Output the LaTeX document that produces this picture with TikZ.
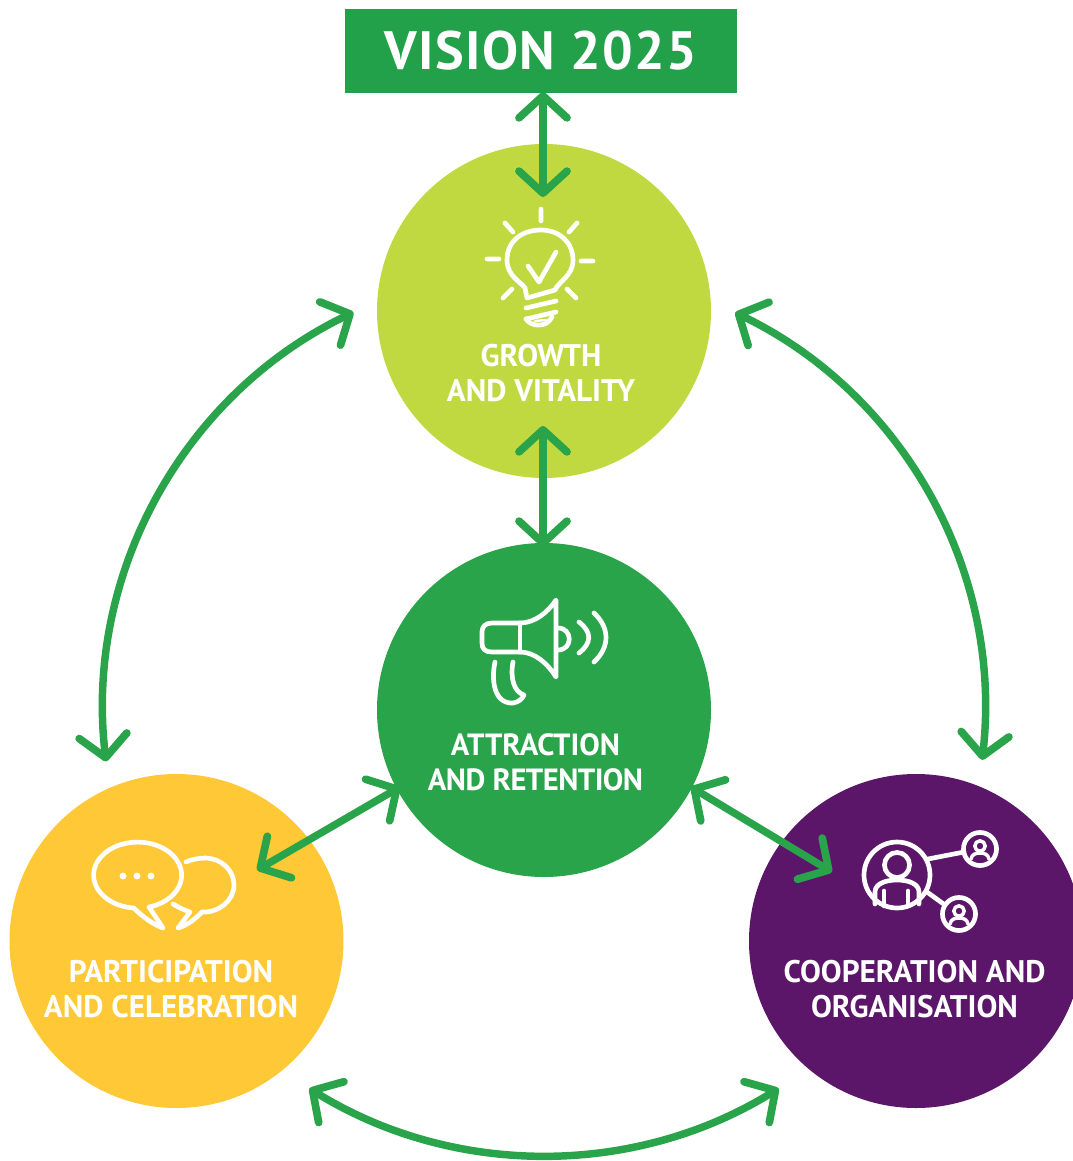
\documentclass[tikz,border=0pt]{standalone}
\usepackage{fontspec}
\setmainfont{PT Sans}
\usetikzlibrary{arrows.meta,calc}
\definecolor{arrowgreen}{HTML}{2AA44A}
\definecolor{boxgreen}{HTML}{22A04A}
\definecolor{lime}{HTML}{C1D940}
\definecolor{sun}{HTML}{FFC836}
\definecolor{plum}{HTML}{5B1669}
\tikzset{
  x=0.75pt,y=-0.75pt,
  disc/.style={circle,minimum size=250.5pt,inner sep=0pt,outer sep=0pt,fill=#1},
  caption/.style={text=white,font=\bfseries\fontsize{23.4}{26.25}\selectfont,align=center,inner sep=0pt},
  dbl/.style={draw=arrowgreen,line width=5.6pt,line cap=round,
    {Straight Barb[round,length=16.5pt,width=36pt,line width=5.8pt]}-{Straight Barb[round,length=16.5pt,width=36pt,line width=5.8pt]}},
  icon/.style={draw=white,line width=3.5pt,line cap=round,line join=round},
  dotw/.style={fill=white},
}
\begin{document}
\begin{tikzpicture}
\useasboundingbox (0,0) rectangle (1073,1161);
\clip (0,0) rectangle (1073,1161);
% boxes and discs
\node[fill=boxgreen,minimum width=294pt,minimum height=63pt,inner sep=0pt,outer sep=0pt] (vision) at (541,51) {};
\node[disc=lime] (growth) at (544,311) {};
\node[disc=arrowgreen] (attract) at (544,710) {};
\node[disc=sun] (part) at (176.5,941) {};
\node[disc=plum] (coop) at (916,941) {};
% labels
\node[text=white,font=\bfseries\fontsize{40.5}{48}\selectfont,inner sep=0pt,anchor=base] (visiontext) at (541,69) {\addfontfeature{LetterSpace=2.6}VISION 2025};
\node[caption] (growthtext) at (541,373.5) {GROWTH\\AND VITALITY};
\node[caption] (attracttext) at (535.5,762.5) {{\fontsize{23}{26.25}\selectfont ATTRACTION}\\{\fontsize{23}{26.25}\selectfont\addfontfeature{LetterSpace=-1.8}AND RETENTION}};
\node[caption] (parttext) at (171,989.5) {PARTICIPATION\\AND CELEBRATION};
\node[caption] (cooptext) at (914.5,989.5) {COOPERATION AND\\ORGANISATION};
% connectors
\coordinate (va) at ($(vision.south)+(2,-1)$);
\coordinate (vb) at ($(growth.north)+(-1,53)$);
\draw[dbl] (va) -- (vb);
\coordinate (ga) at ($(growth.south)+(-1,-52)$);
\coordinate (gb) at ($(attract.north)+(-1,4)$);
\draw[dbl] (ga) -- (gb);
\coordinate (la) at (400,787);
\coordinate (lb) at (257,870);
\draw[dbl] (la) -- (lb);
\coordinate (ra) at (691,787);
\coordinate (rb) at (832,872);
\draw[dbl] (ra) -- (rb);
\draw[dbl] ([shift={(115.6:330.75pt)}]attract.center) arc[start angle=115.6,end angle=186.7,radius=330.75pt];
\draw[dbl] ([shift={(64.3:330.75pt)}]attract.center) arc[start angle=64.3,end angle=-6.5,radius=330.75pt];
\draw[dbl] ([shift={(238.2:334pt)}]attract.center) arc[start angle=238.2,end angle=301.8,radius=334pt];
% bulb icon
\draw[icon] (527,298) -- (525,288) .. controls (521,282) and (507,276) .. (507,260)
  .. controls (507,241) and (522,230) .. (541,230) .. controls (560,230) and (573,243) .. (573,260)
  .. controls (573,276) and (559,281) .. (555,290) -- cycle;
\draw[icon] (526,308) -- (556,301) (526,319) -- (556,312);
\draw[icon] (526,319) .. controls (530,326) and (546,329) .. (552,317);
\draw[icon,line width=1.8pt] (535,321) -- (546,320);
\draw[icon] (528,266) -- (539,282) -- (556,252);
\draw[icon] (541,209) -- (541,221) (505,223) -- (513,232) (577,223) -- (569,232)
  (487,259) -- (499,259) (581,261) -- (593,261) (503,298) -- (512,289) (576,298) -- (567,289);
% megaphone icon
\draw[icon] (520,623) -- (492,623) .. controls (485,623) and (482,627) .. (482,632) -- (482,643)
  .. controls (482,649) and (485,652) .. (492,652) -- (520,652);
\draw[icon] (520,623) -- (520,652);
\draw[icon] (520,623) .. controls (535,623) and (548,612) .. (556,600) -- (556,677)
  .. controls (548,664) and (535,652) .. (520,652);
\draw[icon] (558,628) .. controls (573,628) and (573,650) .. (558,650);
\draw[icon] (579,622) .. controls (592,632) and (592,643) .. (579,653);
\draw[icon] (594,613) .. controls (610,628) and (610,647) .. (594,662);
\draw[icon] (495,662) .. controls (491,680) and (494,704) .. (513,703) .. controls (519,702) and (522,699) .. (524,695)
  .. controls (514,692) and (510,678) .. (513,662);
% chat icon
\draw[icon] (149,907) arc[start angle=-75,end angle=265,x radius=33pt,y radius=24.75pt] .. controls (142,916) and (152,924) .. (163,928) -- cycle;
\fill[dotw] (123,876) circle[radius=2.6pt] (137,876) circle[radius=2.6pt] (151,876) circle[radius=2.6pt];
\draw[icon] (186,862) .. controls (190,860) and (198,858) .. (205,858) .. controls (221,858) and (234,870) .. (234,885)
  .. controls (234,901) and (218,913) .. (202,912) .. controls (195,919) and (188,925) .. (178,928) -- (190,912) .. controls (184,910) and (178,907) .. (173,904);
% network icon
\draw[icon] (897,875) circle[radius=24.75pt];
\draw[icon] (897,865) circle[radius=9.4pt];
\draw[icon] (875,904) -- (875,892) .. controls (875,884) and (885,880) .. (897,880) .. controls (909,880) and (919,884) .. (919,892) -- (919,904);
\draw[icon] (884,891) -- (884,906) (908,891) -- (908,906);
\draw[icon] (980,849) circle[radius=12.4pt];
\draw[icon] (959,914) circle[radius=12.4pt];
\draw[icon,line width=2.6pt] (980,846) circle[radius=3.9pt] (959,911) circle[radius=3.9pt];
\draw[icon,line width=2.6pt] (971,859) .. controls (972,854) and (976,853) .. (980,853) .. controls (984,853) and (988,854) .. (989,859);
\draw[icon,line width=2.6pt] (950,924) .. controls (951,919) and (955,918) .. (959,918) .. controls (963,918) and (967,919) .. (968,924);
\draw[icon] (928,859) -- (964,852) (927,892) -- (945,905);
\end{tikzpicture}
\end{document}
